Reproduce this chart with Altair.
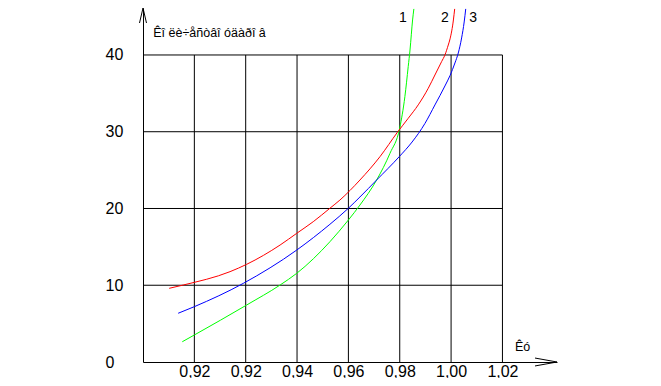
import altair as alt
import pandas as pd

# ---- data ----
green_x = [0.8953, 0.9000, 0.9204, 0.9334, 0.9399, 0.9528, 0.9600, 0.9645, 0.9710, 0.9762, 0.9800, 0.9820, 0.9833, 0.9840, 0.9850, 0.9855]
green_y = [2.64, 3.52, 7.43, 10.03, 11.56, 15.67, 18.50, 20.45, 23.71, 27.19, 30.50, 34.57, 38.48, 40.65, 44.56, 46.0]
red_x = [0.8902, 0.8957, 0.9139, 0.9204, 0.9334, 0.9399, 0.9463, 0.9528, 0.9567, 0.9645, 0.9723, 0.9791, 0.9833, 0.9872, 0.9911, 0.9937, 0.9963, 0.9976, 0.9989, 0.9996, 1.0009, 1.0014]
red_y = [9.60, 10.03, 11.77, 12.73, 15.24, 16.77, 18.28, 20.03, 21.10, 23.71, 26.75, 29.93, 31.75, 33.50, 35.66, 37.39, 39.13, 40.00, 41.30, 42.10, 44.56, 46.0]
blue_x = [0.8937, 0.9000, 0.9191, 0.9399, 0.9528, 0.9600, 0.9645, 0.9710, 0.9798, 0.9848, 0.9898, 0.9937, 0.9976, 0.9996, 1.0015, 1.0028, 1.0041, 1.0051, 1.0057]
blue_y = [6.35, 7.21, 10.25, 14.59, 17.94, 20.03, 21.50, 23.71, 26.75, 28.66, 31.07, 33.49, 35.96, 37.33, 38.96, 40.26, 42.22, 44.30, 46.0]

series_names = ["1", "2", "3"]
series_colors = ["#00ff00", "#ff0000", "#0000ff"]
label_x = [0.9812, 0.9976, 1.0086]
label_y = [45.7, 45.7, 45.7]

x_ticks = [0.90, 0.92, 0.94, 0.96, 0.98, 1.00, 1.02]
x_tick_labels = ["0,92", "0,92", "0,94", "0,96", "0,98", "1,00", "1,02"]
y_ticks = [0, 10, 20, 30, 40]

y_title = "Êî ëè÷åñòâî  óäàðî â"
x_title = "Êó"

X_MIN, X_MAX = 0.88, 1.04125
Y_MIN, Y_MAX = 0.0, 46.12
GRID_X_END = 1.02
GRID_Y_END = 40

FONT = "Liberation Sans"

# ---- tables ----
rows = []
for name, xs_, ys_ in zip(series_names, [green_x, red_x, blue_x], [green_y, red_y, blue_y]):
    for i, (a, b) in enumerate(zip(xs_, ys_)):
        rows.append({"series": name, "x": a, "y": b, "order": i})
curves = pd.DataFrame(rows)

labels_df = pd.DataFrame({"series": series_names, "x": label_x, "y": label_y})
vgrid = pd.DataFrame({"x": x_ticks, "y": [Y_MIN] * len(x_ticks), "y2": [GRID_Y_END] * len(x_ticks)})
hgrid = pd.DataFrame({"y": y_ticks[1:], "x": [X_MIN] * 4, "x2": [GRID_X_END] * 4})

label_expr = " : ".join(
    f"abs(datum.value - {v}) < 0.001 ? '{t}'" for v, t in zip(x_ticks, x_tick_labels)
) + " : ''"

xs = alt.Scale(domain=[X_MIN, X_MAX], nice=False, zero=False)
ys = alt.Scale(domain=[Y_MIN, Y_MAX], nice=False, zero=False)

base_x = alt.X("x:Q", scale=xs, axis=alt.Axis(
    values=x_ticks, labelExpr=label_expr, grid=False, ticks=False, title=None,
    domainColor="black", domainWidth=1, labelFont=FONT, labelFontSize=16,
    labelColor="black", labelPadding=1, labelOverlap=False, labelFlush=False))
base_y = alt.Y("y:Q", scale=ys, axis=alt.Axis(
    values=y_ticks, format="d", grid=False, ticks=False, title=None,
    domainColor="black", domainWidth=1, labelFont=FONT, labelFontSize=16,
    labelColor="black", labelAlign="left", labelPadding=38, labelBaseline="middle"))

vg = alt.Chart(vgrid).mark_rule(color="black", strokeWidth=1).encode(
    x=alt.X("x:Q", scale=xs), y=alt.Y("y:Q", scale=ys), y2="y2:Q")
hg = alt.Chart(hgrid).mark_rule(color="black", strokeWidth=1).encode(
    y=alt.Y("y:Q", scale=ys), x=alt.X("x:Q", scale=xs), x2="x2:Q")

lines = alt.Chart(curves).mark_line(strokeWidth=1, interpolate="monotone").encode(
    x=base_x, y=base_y, order="order:Q",
    color=alt.Color("series:N", scale=alt.Scale(domain=series_names, range=series_colors), legend=None))

lbls = alt.Chart(labels_df).mark_text(font=FONT, fontSize=14, color="black", baseline="top").encode(
    x=alt.X("x:Q", scale=xs), y=alt.Y("y:Q", scale=ys), text="series:N")

titles_df = pd.DataFrame({"x": [0.8840, 1.0249], "y": [42.87, 1.95], "t": [y_title, x_title]})
titles = alt.Chart(titles_df).mark_text(font=FONT, fontSize=12.5, color="black", align="left", baseline="middle").encode(
    x=alt.X("x:Q", scale=xs), y=alt.Y("y:Q", scale=ys), text="t:N")

arrow_x = alt.Chart(pd.DataFrame({"x": [X_MAX], "y": [Y_MIN]})).mark_point(
    shape="M-1,-0.18L0,0L-1,0.18", size=1936, filled=False, stroke="black", strokeWidth=1, opacity=1
).encode(x=alt.X("x:Q", scale=xs), y=alt.Y("y:Q", scale=ys))
arrow_y = alt.Chart(pd.DataFrame({"x": [X_MIN], "y": [Y_MAX]})).mark_point(
    shape="M-0.233,1L0,0L0.233,1", size=900, filled=False, stroke="black", strokeWidth=1, opacity=1
).encode(x=alt.X("x:Q", scale=xs), y=alt.Y("y:Q", scale=ys))

chart = alt.layer(vg, hg, lines, lbls, titles, arrow_x, arrow_y).properties(
    width=414, height=354,
    autosize=alt.AutoSizeParams(type="none"),
    padding={"left": 135, "top": 0, "right": 90, "bottom": 16},
    background="white",
).configure_view(strokeWidth=0)

chart.save("out.html", embed_options={"renderer": "svg", "actions": False})
